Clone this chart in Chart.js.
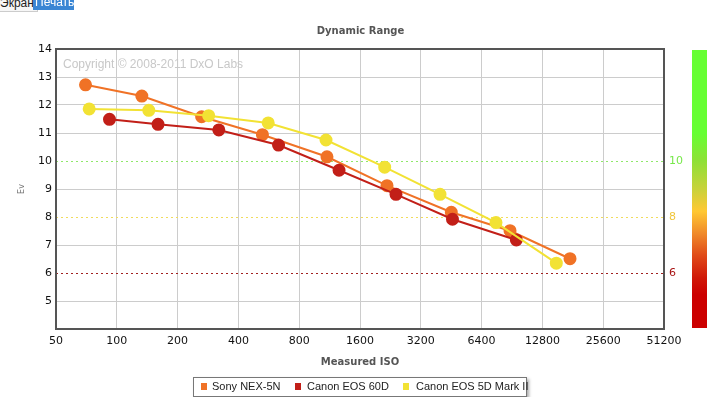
<!DOCTYPE html>
<html>
<head>
<meta charset="utf-8">
<script src="https://cdn.jsdelivr.net/npm/chart.js@4/dist/chart.umd.min.js"></script>
<style>
  body { margin: 0; background: #fff; overflow: hidden; }
  #wrap { position: absolute; left: 0; top: 0; width: 721px; height: 397px; }
  .btn { position: absolute; top: -5px; font: 12px "Liberation Sans", Arial, sans-serif; line-height: 15px; }
  #btn-screen { left: -4px; padding: 0 3px; border: 1px solid #ccc; background: #f6f6f6; color: #222; }
  #btn-print { left: 33px; width: 41px; padding-left: 2px; box-sizing: border-box; background: #3a86d4; color: #fff; }
  #colorbar { position: absolute; left: 692px; top: 50px; width: 15px; height: 278px;
    background: linear-gradient(to bottom, #66ff33 0%, #66ff33 30%, #8fe036 40%, #c8d23a 50%, #ffc833 58%, #f08a2a 66%, #e04a18 74%, #d01808 82%, #cc0000 88%, #cc0000 100%); }
  #legend { position: absolute; left: 193px; top: 377px; width: 334px; height: 20px; box-sizing: border-box;
    border: 1px solid #777; background: #fff; box-shadow: 2px 2px 3px #aaa;
    font: 11px "Liberation Sans", Arial, sans-serif; color: #222; }
  #legend .sq { position: absolute; top: 5px; width: 6px; height: 7px; }
  #legend .tx { position: absolute; top: 2px; line-height: 13px; white-space: nowrap; }
</style>
</head>
<body>
<div id="wrap">
  <canvas id="chart" width="721" height="397"></canvas>
</div>
<span class="btn" id="btn-screen">Экран</span>
<span class="btn" id="btn-print">Печать</span>
<div id="colorbar"></div>
<div id="legend"></div>

<script>
// Values
const xTicks = [50, 100, 200, 400, 800, 1600, 3200, 6400, 12800, 25600, 51200];
const rightTicks = [6, 8, 10];

const sonyIso = [70, 133, 263, 526, 1098, 2177, 4531, 8848, 17536];
const sonyEv = [12.72, 12.32, 11.58, 10.94, 10.15, 9.12, 8.17, 7.51, 6.51];

const eos60dIso = [92, 160, 320, 632, 1260, 2412, 4592, 9510];
const eos60dEv = [11.49, 11.31, 11.11, 10.57, 9.67, 8.81, 7.92, 7.18];

const eos5d2Iso = [73, 144, 285, 562, 1086, 2120, 3984, 7542, 15000];
const eos5d2Ev = [11.86, 11.81, 11.62, 11.36, 10.75, 9.78, 8.81, 7.80, 6.35];

const seriesNames = ['Sony NEX-5N', 'Canon EOS 60D', 'Canon EOS 5D Mark II'];
const seriesColors = ['#f07226', '#c21f18', '#f2e234'];

const levelColors = { 10: '#77e84a', 8: '#f0c63c', 6: '#a81414' };
const levelLines = { 10: '#8fe86a', 8: '#f2dc5a', 6: '#a02020' };

function toPoints(xs, ys) {
    return xs.map((x, i) => ({ x: x, y: ys[i] }));
}

function makeDataset(i, xs, ys, order) {
    return {
        label: seriesNames[i],
        data: toPoints(xs, ys),
        showLine: true,
        borderColor: seriesColors[i],
        backgroundColor: seriesColors[i],
        pointBackgroundColor: seriesColors[i],
        pointBorderColor: seriesColors[i],
        borderWidth: 2,
        pointRadius: 5.5,
        pointHoverRadius: 5.5,
        order: order
    };
}

// watermark, dotted level lines and the dark frame
const decorPlugin = {
    id: 'decor',
    beforeDatasetsDraw(chart) {
        const ctx = chart.ctx;
        const area = chart.chartArea;
        const y = chart.scales.y;
        ctx.save();
        ctx.font = '12px "Liberation Sans", Arial, sans-serif';
        ctx.fillStyle = '#c8c8c8';
        ctx.textBaseline = 'alphabetic';
        ctx.fillText('Copyright \u00a9 2008-2011 DxO Labs', area.left + 7, 68);
        ctx.lineWidth = 1;
        ctx.setLineDash([2, 3]);
        rightTicks.forEach(v => {
            const py = Math.round(y.getPixelForValue(v)) + 0.5;
            ctx.strokeStyle = levelLines[v];
            ctx.beginPath();
            ctx.moveTo(area.left, py);
            ctx.lineTo(area.right, py);
            ctx.stroke();
        });
        ctx.restore();
    },
    afterDraw(chart) {
        const ctx = chart.ctx;
        const a = chart.chartArea;
        ctx.save();
        ctx.strokeStyle = '#555';
        ctx.lineWidth = 2;
        ctx.strokeRect(a.left, a.top, a.right - a.left, a.bottom - a.top);
        ctx.restore();
    }
};

const tickFont = { family: '"DejaVu Sans", Verdana, sans-serif', size: 11 };

new Chart(document.getElementById('chart').getContext('2d'), {
    type: 'scatter',
    data: {
        datasets: [
            makeDataset(0, sonyIso, sonyEv, 3),
            makeDataset(1, eos60dIso, eos60dEv, 2),
            makeDataset(2, eos5d2Iso, eos5d2Ev, 1)
        ]
    },
    options: {
        responsive: false,
        animation: false,
        layout: { padding: { left: 0, right: 0, top: 0, bottom: 23 } },
        plugins: {
            legend: { display: false },
            tooltip: { enabled: false },
            title: {
                display: true,
                text: 'Dynamic Range',
                color: '#555',
                font: { family: '"DejaVu Sans", Verdana, sans-serif', size: 10, weight: 'bold' },
                padding: { top: 25, bottom: 12 }
            }
        },
        scales: {
            x: {
                type: 'logarithmic',
                min: 50,
                max: 51200,
                afterBuildTicks: scale => { scale.ticks = xTicks.map(v => ({ value: v })); },
                afterFit: scale => { scale.height = 45; },
                ticks: {
                    color: '#111',
                    font: tickFont,
                    padding: 6,
                    maxRotation: 0,
                    autoSkip: false,
                    callback: v => String(v)
                },
                grid: { color: '#cccccc', drawTicks: false },
                border: { display: false },
                title: {
                    display: true,
                    text: 'Measured ISO',
                    color: '#555',
                    font: { family: '"DejaVu Sans", Verdana, sans-serif', size: 10, weight: 'bold' },
                    padding: { top: 0, bottom: 5.5 }
                }
            },
            y: {
                position: 'left',
                min: 4,
                max: 14,
                afterFit: scale => { scale.width = 56; },
                ticks: {
                    stepSize: 1,
                    color: '#111',
                    font: tickFont,
                    padding: 4,
                    callback: v => (v === 4 ? '' : String(v))
                },
                grid: {
                    color: c => (c.tick && rightTicks.includes(c.tick.value) ? 'rgba(0,0,0,0)' : '#cccccc'),
                    drawTicks: false
                },
                border: { display: false },
                title: {
                    display: true,
                    text: 'Ev',
                    color: '#777',
                    font: { family: '"DejaVu Sans", Verdana, sans-serif', size: 8 },
                    padding: { top: 17, bottom: 0 }
                }
            },
            y2: {
                position: 'right',
                min: 4,
                max: 14,
                afterBuildTicks: scale => { scale.ticks = rightTicks.map(v => ({ value: v })); },
                afterFit: scale => { scale.width = 57; },
                ticks: {
                    font: tickFont,
                    padding: 5,
                    color: c => levelColors[c.tick.value] || '#111'
                },
                grid: { display: false, drawTicks: false },
                border: { display: false }
            }
        }
    },
    plugins: [decorPlugin]
});

// legend box below the chart
const legend = document.getElementById('legend');
const legendSquares = [7, 101, 209];
const legendTexts = [18, 113, 222];
seriesNames.forEach((name, i) => {
    const sq = document.createElement('span');
    sq.className = 'sq';
    sq.style.left = legendSquares[i] + 'px';
    sq.style.background = seriesColors[i];
    legend.appendChild(sq);
    const tx = document.createElement('span');
    tx.className = 'tx';
    tx.style.left = legendTexts[i] + 'px';
    tx.textContent = name;
    legend.appendChild(tx);
});
</script>
</body>
</html>
